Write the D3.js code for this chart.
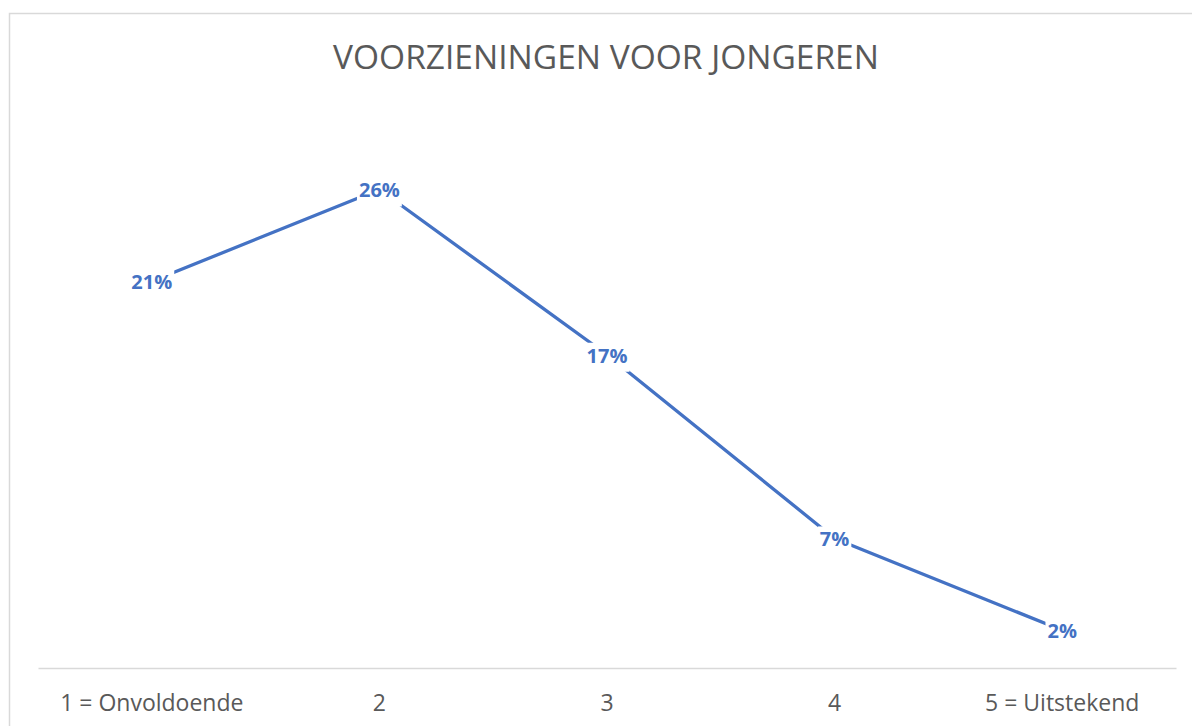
<!DOCTYPE html>
<html lang="nl">
<head>
    <meta charset="UTF-8">
    <script src="https://cdnjs.cloudflare.com/ajax/libs/d3/7.8.5/d3.min.js"></script>
    <title>Voorzieningen voor jongeren</title>
    <style>
        html, body {
            margin: 0;
            padding: 0;
            background: #ffffff;
            overflow: hidden;
        }

        .chart-title {
            fill: #595959;
            font-family: "Open Sans", sans-serif;
            font-size: 33.5px;
            font-weight: 400;
        }

        .text-axis {
            fill: #595959;
            font-family: "Open Sans", sans-serif;
            font-size: 23px;
        }

        .chart-label {
            fill: #4472C4;
            font-family: "Open Sans", sans-serif;
            font-size: 20px;
            font-weight: 700;
        }
    </style>
</head>
<body>
    <script>
        const categories = ['1 = Onvoldoende', '2', '3', '4', '5 = Uitstekend'];
        const values = [0.21, 0.26, 0.17, 0.07, 0.02];
        const yDomain = [0, 0.3];

        const title = 'VOORZIENINGEN VOOR JONGEREN';

        const width = 1192;
        const height = 726;
        const plotLeft = 38;
        const plotRight = 1176;
        const plotTop = 116;
        const plotBottom = 667;

        const colorLine = '#4472C4';
        const colorGrid = '#D9D9D9';

        const svg = d3.select('body')
            .append('svg')
            .attr('width', width)
            .attr('height', height);

        // рамка графика
        svg.append('rect')
            .attr('x', 9.5)
            .attr('y', 13.5)
            .attr('width', width + 20)
            .attr('height', height + 20)
            .attr('fill', '#ffffff')
            .attr('stroke', colorGrid)
            .attr('stroke-width', 1.5);

        svg.append('text')
            .attr('class', 'chart-title')
            .attr('x', 606)
            .attr('y', 69)
            .attr('text-anchor', 'middle')
            .text(title);

        const x = d3.scaleBand()
            .domain(categories)
            .range([plotLeft, plotRight])
            .padding(0);

        const y = d3.scaleLinear()
            .domain(yDomain)
            .range([plotBottom, plotTop]);

        // ось X
        const xAxis = d3.axisBottom(x)
            .tickSize(0)
            .tickPadding(0);

        const axisGroup = svg.append('g')
            .attr('class', 'axis axis--x')
            .attr('transform', 'translate(0,' + (plotBottom + 1) + ')')
            .call(xAxis);

        axisGroup.select('.domain')
            .attr('stroke', colorGrid)
            .attr('stroke-width', 1.5);

        axisGroup.selectAll('text')
            .attr('class', 'text-axis')
            .attr('y', 43)
            .attr('dy', 0)
            .attr('font-size', null)
            .attr('font-family', null)
            .attr('fill', null);

        const cx = function(d, i) { return x(categories[i]) + x.bandwidth() / 2 };

        // линия
        const line = d3.line()
            .x(function(d, i) { return cx(d, i) })
            .y(function(d) { return y(d) });

        svg.append('path')
            .datum(values)
            .attr('fill', 'none')
            .attr('stroke', colorLine)
            .attr('stroke-width', 3.3)
            .attr('stroke-linejoin', 'round')
            .attr('d', line);

        // подписи значений с белым фоном
        const labels = svg.selectAll('.label-group')
            .data(values)
            .enter()
            .append('g')
            .attr('class', 'label-group');

        labels.append('text')
            .attr('class', 'chart-label')
            .attr('x', function(d, i) { return cx(d, i) })
            .attr('y', function(d) { return y(d) })
            .attr('dy', '0.4em')
            .attr('text-anchor', 'middle')
            .text(function(d) { return d3.format('.0%')(d) });

        labels.each(function() {
            const g = d3.select(this);
            const box = g.select('text').node().getBBox();
            g.insert('rect', 'text')
                .attr('x', box.x - 2)
                .attr('y', box.y + 1)
                .attr('width', box.width + 4)
                .attr('height', box.height + 2)
                .attr('fill', '#ffffff');
        });
    </script>
</body>
</html>
